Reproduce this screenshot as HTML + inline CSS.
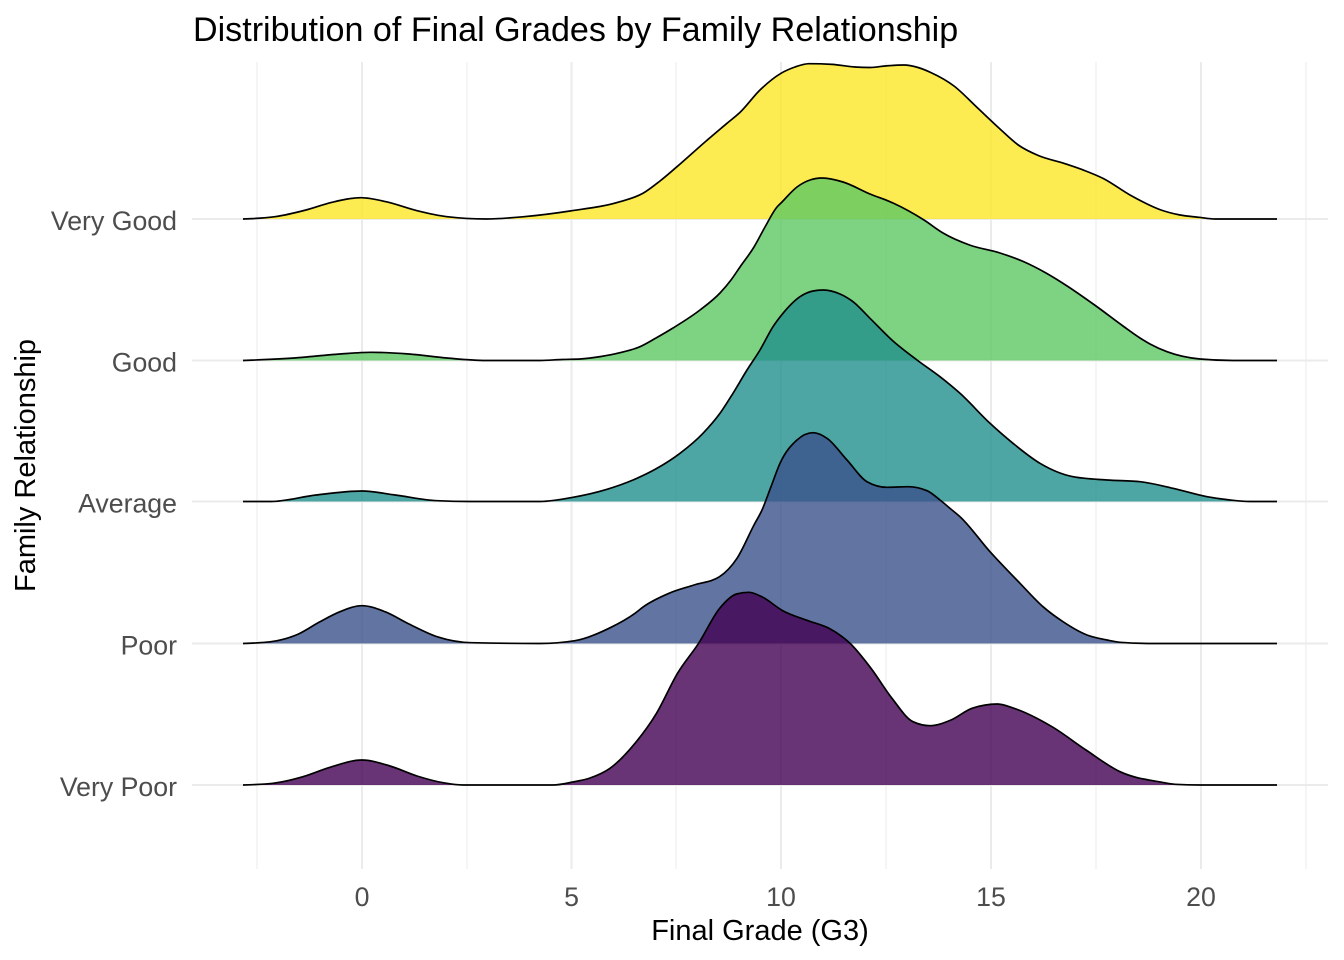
<!DOCTYPE html>
<html>
<head>
<meta charset="utf-8">
<style>
  html, body { margin: 0; padding: 0; background: #ffffff; }
  svg { display: block; }
  text { font-family: "Liberation Sans", Arial, sans-serif; }
</style>
</head>
<body>
<svg id="chart" width="1344" height="960" viewBox="0 0 1344 960" xmlns="http://www.w3.org/2000/svg">
  <rect x="0" y="0" width="1344" height="960" fill="#ffffff"/>

  <!-- minor vertical grid -->
  <g stroke="#EBEBEB" stroke-width="1">
    <line x1="257" y1="62" x2="257" y2="869"/>
    <line x1="467" y1="62" x2="467" y2="869"/>
    <line x1="676" y1="62" x2="676" y2="869"/>
    <line x1="886" y1="62" x2="886" y2="869"/>
    <line x1="1096" y1="62" x2="1096" y2="869"/>
    <line x1="1306" y1="62" x2="1306" y2="869"/>
  </g>
  <!-- major vertical grid -->
  <g stroke="#EBEBEB" stroke-width="2">
    <line x1="362" y1="62" x2="362" y2="869"/>
    <line x1="571.5" y1="62" x2="571.5" y2="869"/>
    <line x1="781" y1="62" x2="781" y2="869"/>
    <line x1="991" y1="62" x2="991" y2="869"/>
    <line x1="1201" y1="62" x2="1201" y2="869"/>
  </g>
  <!-- horizontal grid at baselines -->
  <g stroke="#EBEBEB" stroke-width="2">
    <line x1="192" y1="219" x2="1328" y2="219"/>
    <line x1="192" y1="360.5" x2="1328" y2="360.5"/>
    <line x1="192" y1="501.5" x2="1328" y2="501.5"/>
    <line x1="192" y1="643.5" x2="1328" y2="643.5"/>
    <line x1="192" y1="785" x2="1328" y2="785"/>
  </g>

  <g id="ridges">
  <!-- Very Good -->
  <polygon class="rf" fill="#FDE725" fill-opacity="0.8" points="243,219 275,216.7 306,210 332,202.3 361,197.7 386,201.7 417,210.7 447,216.7 486,219 524,216.7 570,211 620,201.7 643,193.3 660,181 677,166.7 705,142 727,123.3 740,112.4 760,90 781,73.3 795,67 809,63.7 832,64.4 855,67 870,67.5 885,66 904,65 918,67.5 931,72.6 954,86 977,107.4 1000,129 1019,145.5 1038,155.4 1065,163.7 1084,170.3 1103.5,178.6 1130,195 1161,210 1180,215 1199,217.3 1215,219 1277,219"/>
  <polyline class="rl" fill="none" stroke="#000" stroke-width="1.7" stroke-linejoin="round" points="243,219 275,216.7 306,210 332,202.3 361,197.7 386,201.7 417,210.7 447,216.7 486,219 524,216.7 570,211 620,201.7 643,193.3 660,181 677,166.7 705,142 727,123.3 740,112.4 760,90 781,73.3 795,67 809,63.7 832,64.4 855,67 870,67.5 885,66 904,65 918,67.5 931,72.6 954,86 977,107.4 1000,129 1019,145.5 1038,155.4 1065,163.7 1084,170.3 1103.5,178.6 1130,195 1161,210 1180,215 1199,217.3 1215,219 1277,219"/>

  <!-- Good -->
  <polygon class="rf" fill="#5DC863" fill-opacity="0.8" points="243,360.5 294,358 340,354 371,352.3 409,354 447,358 486,360.5 540,360.5 562,359.5 580,359 601,356.5 620,352.7 640,346.7 656,338 673,328 700,310 720,293 731,280 740,267 754,247 765,227 777,207 781,203 797,187 810,180 822,178 843,182 870,194 893,203 924,220 943,233 969.5,245 1000,253 1023,261.4 1046,273 1065,284.6 1096,306 1123,326 1140,338 1150,344 1167,351.7 1200,359 1233,360.5 1277,360.5"/>
  <polyline class="rl" fill="none" stroke="#000" stroke-width="1.7" stroke-linejoin="round" points="243,360.5 294,358 340,354 371,352.3 409,354 447,358 486,360.5 540,360.5 562,359.5 580,359 601,356.5 620,352.7 640,346.7 656,338 673,328 700,310 720,293 731,280 740,267 754,247 765,227 777,207 781,203 797,187 810,180 822,178 843,182 870,194 893,203 924,220 943,233 969.5,245 1000,253 1023,261.4 1046,273 1065,284.6 1096,306 1123,326 1140,338 1150,344 1167,351.7 1200,359 1233,360.5 1277,360.5"/>

  <!-- Average -->
  <polygon class="rf" fill="#21908C" fill-opacity="0.8" points="243,501.5 271,501.5 316,495 362,491 395,495 437,500.7 470,501.5 540,501.5 573,497.3 607,489.3 633,480 657,468.3 680,453.3 703,433.3 720,413.3 733,393.3 747,370 760,350 773,326.7 783,313.3 800,296.7 813,291 823,290 840,294 853,301.7 870,318.3 893,341 917,360 940,376.7 960,393.3 990,423.3 1013,443.3 1040,463.3 1073,476.7 1107,480 1140,481.7 1173,488.3 1207,496.7 1230,500 1250,501.5 1277,501.5"/>
  <polyline class="rl" fill="none" stroke="#000" stroke-width="1.7" stroke-linejoin="round" points="243,501.5 271,501.5 316,495 362,491 395,495 437,500.7 470,501.5 540,501.5 573,497.3 607,489.3 633,480 657,468.3 680,453.3 703,433.3 720,413.3 733,393.3 747,370 760,350 773,326.7 783,313.3 800,296.7 813,291 823,290 840,294 853,301.7 870,318.3 893,341 917,360 940,376.7 960,393.3 990,423.3 1013,443.3 1040,463.3 1073,476.7 1107,480 1140,481.7 1173,488.3 1207,496.7 1230,500 1250,501.5 1277,501.5"/>

  <!-- Poor -->
  <polygon class="rf" fill="#3B528B" fill-opacity="0.8" points="243,643.5 271,641.7 298.5,634 319,622.3 340,611.7 362,605.7 385,611.7 409,624 437,636.7 471,642.7 540,643.5 575,640.7 609,628.3 635,613.3 643.5,606.7 669,593.3 694,585 719.5,576.7 737,558.3 754,525 762,510 771,486.7 780,463.3 797,440 813,432.7 827,438.3 847,460 867,481.7 887,487.3 908,486.7 927,490.7 940,500 952,510 960,516.7 990,551.7 1020,583.3 1043,606.7 1063,621.7 1087,635 1107,640 1120,642.3 1153,643.5 1277,643.5"/>
  <polyline class="rl" fill="none" stroke="#000" stroke-width="1.7" stroke-linejoin="round" points="243,643.5 271,641.7 298.5,634 319,622.3 340,611.7 362,605.7 385,611.7 409,624 437,636.7 471,642.7 540,643.5 575,640.7 609,628.3 635,613.3 643.5,606.7 669,593.3 694,585 719.5,576.7 737,558.3 754,525 762,510 771,486.7 780,463.3 797,440 813,432.7 827,438.3 847,460 867,481.7 887,487.3 908,486.7 927,490.7 940,500 952,510 960,516.7 990,551.7 1020,583.3 1043,606.7 1063,621.7 1087,635 1107,640 1120,642.3 1153,643.5 1277,643.5"/>

  <!-- Very Poor -->
  <polygon class="rf" fill="#440154" fill-opacity="0.8" points="243,785 273,783.3 303,776.7 330,767.3 362,760 390,766 417,776 443,782.7 463,785 553,785 573,782 590,778 610,768.3 635,743.3 656.5,713.3 677.5,673.3 698.6,643.3 719.7,608.3 736.5,594 749,592.3 761.7,596.7 782.8,610.7 808,620.7 829,628.3 850,643.3 871,668.3 892,698.3 913,721.7 930,725.7 951,720 972,708.3 997.5,704 1014,708.3 1052,726.7 1086,750 1120,771.7 1162,782.3 1175,784.3 1200,785 1277,785"/>
  <polyline class="rl" fill="none" stroke="#000" stroke-width="1.7" stroke-linejoin="round" points="243,785 273,783.3 303,776.7 330,767.3 362,760 390,766 417,776 443,782.7 463,785 553,785 573,782 590,778 610,768.3 635,743.3 656.5,713.3 677.5,673.3 698.6,643.3 719.7,608.3 736.5,594 749,592.3 761.7,596.7 782.8,610.7 808,620.7 829,628.3 850,643.3 871,668.3 892,698.3 913,721.7 930,725.7 951,720 972,708.3 997.5,704 1014,708.3 1052,726.7 1086,750 1120,771.7 1162,782.3 1175,784.3 1200,785 1277,785"/>
  </g>

  <!-- Title -->
  <text x="193" y="41" font-size="34.1" fill="#000000">Distribution of Final Grades by Family Relationship</text>

  <!-- Y tick labels -->
  <g font-size="26.7" fill="#4D4D4D" text-anchor="end">
    <text x="177" y="230">Very Good</text>
    <text x="177" y="371.5">Good</text>
    <text x="177" y="512.5">Average</text>
    <text x="177" y="654.5">Poor</text>
    <text x="177" y="796">Very Poor</text>
  </g>

  <!-- X tick labels -->
  <g font-size="26.7" fill="#4D4D4D" text-anchor="middle">
    <text x="362" y="906">0</text>
    <text x="571.5" y="906">5</text>
    <text x="781" y="906">10</text>
    <text x="991" y="906">15</text>
    <text x="1201" y="906">20</text>
  </g>

  <!-- Axis titles -->
  <text x="760" y="940" font-size="29" fill="#000000" text-anchor="middle">Final Grade (G3)</text>
  <text transform="translate(35,465.5) rotate(-90)" x="0" y="0" font-size="29" fill="#000000" text-anchor="middle">Family Relationship</text>
</svg>
<script>
(function(){
  var NS = "http://www.w3.org/2000/svg";
  function parse(s){
    return s.trim().split(/\s+/).map(function(p){var a=p.split(',');return [parseFloat(a[0]),parseFloat(a[1])];});
  }
  function sign(x){ return x < 0 ? -1 : 1; }
  // Monotone cubic interpolation in x (like d3.curveMonotoneX)
  function smooth(pts){
    var n = pts.length, i;
    var h = [], s = [], t = [];
    for (i=0;i<n-1;i++){
      h[i] = pts[i+1][0]-pts[i][0];
      s[i] = h[i] ? (pts[i+1][1]-pts[i][1])/h[i] : 0;
    }
    for (i=1;i<n-1;i++){
      var s0 = s[i-1], s1 = s[i], h0 = h[i-1], h1 = h[i];
      var p = (s0*h1 + s1*h0)/(h0+h1);
      t[i] = (sign(s0)+sign(s1)) * Math.min(Math.abs(s0), Math.abs(s1), 0.5*Math.abs(p)) || 0;
    }
    t[0] = n > 2 ? (3*s[0] - t[1])/2 : s[0];
    t[n-1] = n > 2 ? (3*s[n-2] - t[n-2])/2 : s[n-2];
    // clamp endpoints to keep monotone
    if (sign(t[0]) !== sign(s[0])) t[0] = 0;
    if (sign(t[n-1]) !== sign(s[n-2])) t[n-1] = 0;
    var d = "M" + pts[0][0] + "," + pts[0][1];
    for (i=0;i<n-1;i++){
      var dx = h[i]/3;
      var c1x = pts[i][0] + dx, c1y = pts[i][1] + dx*t[i];
      var c2x = pts[i+1][0] - dx, c2y = pts[i+1][1] - dx*t[i+1];
      d += " C" + c1x.toFixed(2) + "," + c1y.toFixed(2) + " " + c2x.toFixed(2) + "," + c2y.toFixed(2) + " " + pts[i+1][0] + "," + pts[i+1][1];
    }
    return d;
  }
  try {
    var els = document.querySelectorAll("#ridges polygon, #ridges polyline");
    for (var k=0;k<els.length;k++){
      var el = els[k];
      var pts = parse(el.getAttribute("points"));
      var d = smooth(pts);
      var path = document.createElementNS(NS, "path");
      if (el.tagName.toLowerCase() === "polygon") {
        d += " Z";
        path.setAttribute("fill", el.getAttribute("fill"));
        path.setAttribute("fill-opacity", el.getAttribute("fill-opacity"));
        path.setAttribute("stroke", "none");
      } else {
        path.setAttribute("fill", "none");
        path.setAttribute("stroke", "#000");
        path.setAttribute("stroke-width", "1.7");
        path.setAttribute("stroke-linejoin", "round");
      }
      path.setAttribute("d", d);
      el.parentNode.replaceChild(path, el);
    }
  } catch(e) {}
})();
</script>
</body>
</html>
